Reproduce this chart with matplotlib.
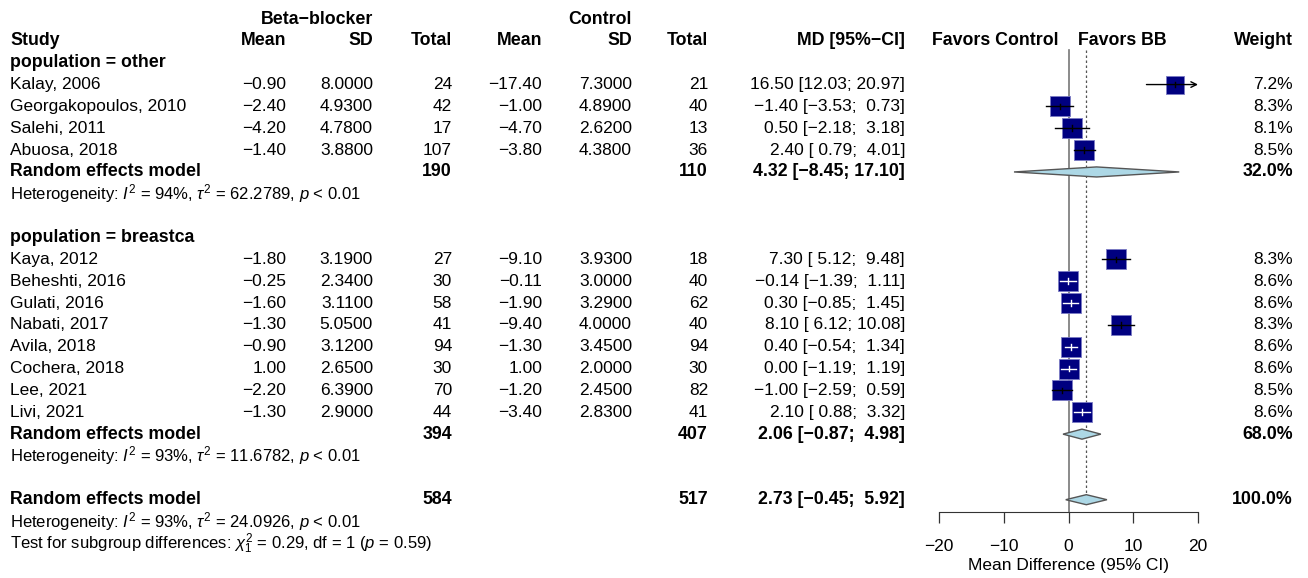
import numpy as np
import matplotlib.pyplot as plt

plt.rcParams['font.family'] = ['Liberation Sans', 'DejaVu Sans']
plt.rcParams['mathtext.fontset'] = 'custom'
plt.rcParams['mathtext.rm'] = 'Liberation Sans'
plt.rcParams['mathtext.it'] = 'Liberation Sans:italic'
plt.rcParams['mathtext.bf'] = 'Liberation Sans:bold'

# study level data
studies = ['Kalay, 2006', 'Georgakopoulos, 2010', 'Salehi, 2011', 'Abuosa, 2018',
           'Kaya, 2012', 'Beheshti, 2016', 'Gulati, 2016', 'Nabati, 2017',
           'Avila, 2018', 'Cochera, 2018', 'Lee, 2021', 'Livi, 2021']
population = ['other'] * 4 + ['breastca'] * 8
bb_mean = [-0.90, -2.40, -4.20, -1.40, -1.80, -0.25, -1.60, -1.30, -0.90, 1.00, -2.20, -1.30]
bb_sd = [8.0, 4.93, 4.78, 3.88, 3.19, 2.34, 3.11, 5.05, 3.12, 2.65, 6.39, 2.90]
bb_n = [24, 42, 17, 107, 27, 30, 58, 41, 94, 30, 70, 44]
ct_mean = [-17.40, -1.00, -4.70, -3.80, -9.10, -0.11, -1.90, -9.40, -1.30, 1.00, -1.20, -3.40]
ct_sd = [7.3, 4.89, 2.62, 4.38, 3.93, 3.00, 3.29, 4.00, 3.45, 2.00, 2.45, 2.83]
ct_n = [21, 40, 13, 36, 18, 40, 62, 40, 94, 30, 82, 41]
md = [16.50, -1.40, 0.50, 2.40, 7.30, -0.14, 0.30, 8.10, 0.40, 0.00, -1.00, 2.10]
md_lo = [12.03, -3.53, -2.18, 0.79, 5.12, -1.39, -0.85, 6.12, -0.54, -1.19, -2.59, 0.88]
md_hi = [20.97, 0.73, 3.18, 4.01, 9.48, 1.11, 1.45, 10.08, 1.34, 1.19, 0.59, 3.32]
weight = [7.2, 8.3, 8.1, 8.5, 8.3, 8.6, 8.6, 8.3, 8.6, 8.6, 8.5, 8.6]

# pooled results (subgroups, then overall)
groups = ['other', 'breastca']
pool_bb_n = [190, 394, 584]
pool_ct_n = [110, 407, 517]
pool_md = [4.32, 2.06, 2.73]
pool_lo = [-8.45, -0.87, -0.45]
pool_hi = [17.10, 4.98, 5.92]
pool_weight = [32.0, 68.0, 100.0]
het_i2 = [94, 93, 93]
het_tau2 = [62.2789, 11.6782, 24.0926]

x_ticks = [-20, -10, 0, 10, 20]


def fmt(v, d=2):
    return f'{v:.{d}f}'.replace('-', '\u2212')


def ci_text(m, lo, hi):
    return f'{fmt(m)} [{fmt(lo):>5}; {fmt(hi):>5}]'


W, H = 1308, 578
ROW0, ROW_H = 19, 21.85  # pixel y of row 0 and row height
X0_PX, X20_PX = 939.3, 1198.0  # pixel x of -20 and +20
AXIS_PX = 511.7

fig = plt.figure(figsize=(W / 100, H / 100), dpi=100)

# text axes in pixel x / row y
ax = fig.add_axes([0, 0, 1, 1])
ax.set_xlim(0, W)
ax.set_ylim((H - ROW0) / ROW_H, -ROW0 / ROW_H)
ax.axis('off')

# forest axes
f_left = X0_PX / W
f_width = (X20_PX - X0_PX) / W
f_bottom = 1 - AXIS_PX / H
axf = fig.add_axes([f_left, f_bottom, f_width, 1 - f_bottom])
axf.set_xlim(-20, 20)
axf.set_ylim((AXIS_PX - ROW0) / ROW_H, -ROW0 / ROW_H)
axf.patch.set_alpha(0)
for s in ['top', 'right', 'left']:
    axf.spines[s].set_visible(False)
axf.spines['bottom'].set_bounds(-20, 20)
axf.spines['bottom'].set_color('#333333')
axf.set_yticks([])
axf.set_xticks(x_ticks)
axf.tick_params(axis='x', length=8, width=0.9, color='#333333', labelsize=12.5, pad=12)
axf.set_xlabel('Mean Difference (95% CI)', fontsize=12.5, labelpad=2.5)

FS = 12.5
FS_BOLD = 12.8
FS_HET = 12.0
col_right = {'bb_mean': 286, 'bb_sd': 373, 'bb_n': 452, 'ct_mean': 542,
             'ct_sd': 632, 'ct_n': 708, 'md': 905, 'w': 1293}


def txt(x, r, s, ha='right', bold=False, size=None):
    if size is None:
        size = FS_BOLD if bold else FS
    ax.text(x, r, s, ha=ha, va='center', fontsize=size,
            fontweight='bold' if bold else 'normal')


# header
txt(col_right['bb_sd'], 0, 'Beta\u2212blocker', bold=True)
txt(col_right['ct_sd'], 0, 'Control', bold=True)
txt(10, 1, 'Study', ha='left', bold=True)
for key, lab in [('bb_mean', 'Mean'), ('bb_sd', 'SD'), ('bb_n', 'Total'),
                 ('ct_mean', 'Mean'), ('ct_sd', 'SD'), ('ct_n', 'Total'),
                 ('md', 'MD [95%\u2212CI]'), ('w', 'Weight')]:
    txt(col_right[key], 1, lab, bold=True)
txt(1058, 1, 'Favors Control', bold=True)
txt(1078, 1, 'Favors BB', ha='left', bold=True)

px_per_unit = (X20_PX - X0_PX) / 40

row = 2
pool_rows = []
for g_i, g in enumerate(groups):
    txt(10, row, f'population = {g}', ha='left', bold=True)
    row += 1
    for i in [k for k in range(len(studies)) if population[k] == g]:
        txt(10, row, studies[i], ha='left')
        txt(col_right['bb_mean'], row, fmt(bb_mean[i]))
        txt(col_right['bb_sd'], row, fmt(bb_sd[i], 4))
        txt(col_right['bb_n'], row, str(bb_n[i]))
        txt(col_right['ct_mean'], row, fmt(ct_mean[i]))
        txt(col_right['ct_sd'], row, fmt(ct_sd[i], 4))
        txt(col_right['ct_n'], row, str(ct_n[i]))
        txt(col_right['md'], row, ci_text(md[i], md_lo[i], md_hi[i]))
        txt(col_right['w'], row, f'{weight[i]:.1f}%')

        # square, area proportional to weight
        side_px = 6.9 * np.sqrt(weight[i])
        axf.scatter([md[i]], [row], marker='s', s=(side_px * 0.72) ** 2,
                    color='#000080', edgecolor='#7b7bc4', linewidth=0.6,
                    zorder=3, clip_on=False)
        half_ci_px = (md_hi[i] - md_lo[i]) / 2 * px_per_unit
        lc = 'white' if half_ci_px < side_px / 2 else 'black'
        hi = min(md_hi[i], 20)
        if md_hi[i] > 20:
            axf.annotate('', xy=(hi, row), xytext=(md_lo[i], row),
                         arrowprops=dict(arrowstyle='->', lw=1, color=lc,
                                         shrinkA=0, shrinkB=0), zorder=4)
        else:
            axf.plot([md_lo[i], hi], [row, row], color=lc, lw=1, zorder=4,
                     clip_on=False)
        axf.plot([md[i], md[i]], [row - 0.13, row + 0.13], color=lc, lw=1,
                 zorder=4)
        row += 1
    pool_rows.append(row)
    row += 3

pool_rows.append(row)

for j, r in enumerate(pool_rows):
    txt(10, r, 'Random effects model', ha='left', bold=True)
    txt(col_right['bb_n'], r, str(pool_bb_n[j]), bold=True)
    txt(col_right['ct_n'], r, str(pool_ct_n[j]), bold=True)
    txt(col_right['md'], r, ci_text(pool_md[j], pool_lo[j], pool_hi[j]), bold=True)
    txt(col_right['w'], r, f'{pool_weight[j]:.1f}%', bold=True)
    txt(10, r + 1, rf'Heterogeneity: $I^2$ = {het_i2[j]}%, $\tau^2$ = {het_tau2[j]:.4f}, $p$ < 0.01',
        ha='left', size=FS_HET)
    # diamond
    h = 0.23
    xs = [pool_lo[j], pool_md[j], pool_hi[j], pool_md[j]]
    ys = [r, r - h, r, r + h]
    axf.fill(xs, ys, facecolor='#add8e6', edgecolor='#555555', lw=1,
             zorder=3, clip_on=False)

txt(10, pool_rows[-1] + 2,
    r'Test for subgroup differences: $\chi^2_1$ = 0.29, df = 1 ($p$ = 0.59)',
    ha='left', size=FS_HET)

# reference lines: no effect and overall estimate
axf.plot([0, 0], [1.4, axf.get_ylim()[0]], color='#777777', lw=1.2, zorder=1,
         clip_on=False)
axf.plot([pool_md[-1]] * 2, [1.4, pool_rows[-1] - 0.23], color='#555555',
         lw=0.9, ls=(0, (2, 2)), zorder=1)

plt.savefig('out.png', dpi=100)
